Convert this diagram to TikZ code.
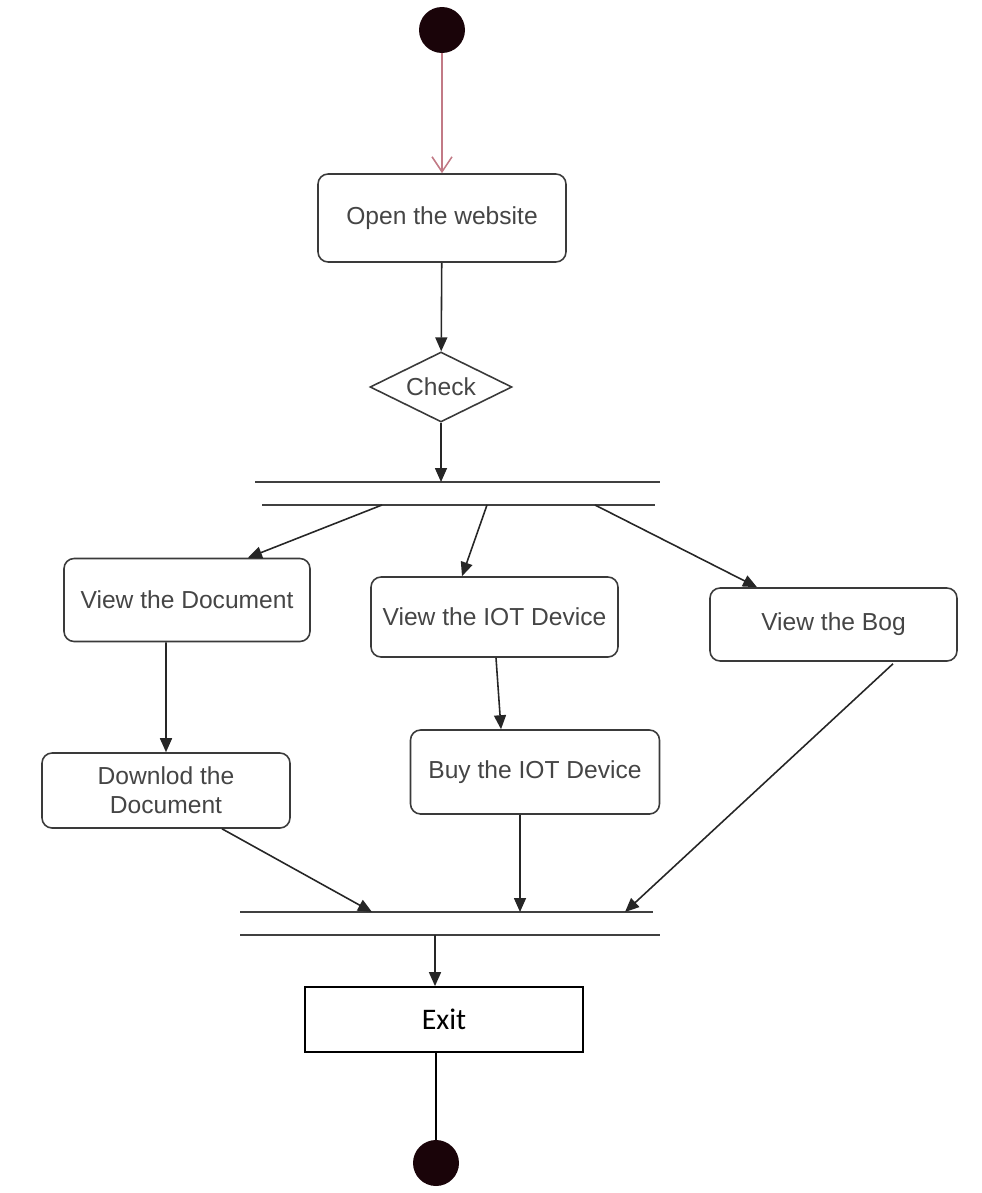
\documentclass[tikz,border=0pt]{standalone}
\usepackage{fontspec}
\setmainfont{Liberation Sans}
\newfontfamily\exitfont{Carlito}
\usetikzlibrary{shapes.geometric,arrows.meta}
\definecolor{boxline}{HTML}{3A3A3A}
\definecolor{boxtext}{HTML}{454545}
\definecolor{startred}{HTML}{C27A86}
\definecolor{blobfill}{HTML}{1A0409}

\begin{document}
\begin{tikzpicture}[x=0.02cm,y=-0.02cm,
    action/.style={draw=boxline, line width=0.9pt, rounded corners=0.2cm, fill=white,
      text=boxtext, font=\fontsize{14}{16.5}\selectfont, align=center, inner sep=0pt},
    blob/.style={circle, fill=blobfill, minimum size=0.92cm, inner sep=0pt},
    check/.style={diamond, aspect=2, draw=boxline, line width=0.9pt, text=boxtext,
      font=\fontsize{14}{16.5}\selectfont, minimum width=2.84cm, minimum height=1.4cm, inner sep=0pt},
    flow/.style={-{Triangle[length=0.28cm,width=0.24cm]}, line width=0.9pt, draw=black!85},
    forkbar/.style={line width=1pt, draw=black!75}]
  \useasboundingbox (0,0) rectangle (981,1193);

  % start and first action
  \node[blob] (start) at (442,30) {};
  \node[action, minimum width=4.96cm, minimum height=1.76cm] (open) at (442,218) {Open the website};
  \node[check] (check) at (441,387) {Check};

  % fork bar
  \draw[forkbar] (255,482) -- (660,482);
  \draw[forkbar] (262,505) -- (655,505);
  \coordinate (forktop) at (441,482);
  \coordinate (f1) at (382,505);
  \coordinate (f2) at (487,505);
  \coordinate (f3) at (595,505);

  % three branches
  \node[action, minimum width=4.92cm, minimum height=1.66cm] (viewdoc) at (187,600) {View the Document};
  \node[action, minimum width=4.94cm, minimum height=1.6cm] (viewiot) at (494.5,617) {View the IOT Device};
  \node[action, minimum width=4.94cm, minimum height=1.46cm] (viewbog) at (833.5,624.5) {View the Bog};
  \node[action, minimum width=4.96cm, minimum height=1.5cm] (download) at (166,790.5) {Downlod the\\Document};
  \node[action, minimum width=4.98cm, minimum height=1.68cm] (buy) at (535,772) {Buy the IOT Device};

  % join bar
  \draw[forkbar] (240,912) -- (653,912);
  \draw[forkbar] (240,935) -- (660,935);
  \coordinate (j1) at (372,912);
  \coordinate (j2) at (520,912);
  \coordinate (j3) at (625,912);
  \coordinate (jbot) at (435,935);

  % exit and end
  \node[draw=black, line width=1pt, fill=white, minimum width=5.56cm, minimum height=1.3cm,
    inner sep=0pt, font=\exitfont\fontsize{17}{20}\selectfont] (ex) at (444,1019.5) {Exit};
  \node[blob] (end) at (436,1163) {};

  % connectors
  \draw[-{Straight Barb[length=0.3cm,width=0.4cm]}, draw=startred, line width=0.9pt] (start) -- (open);
  \draw[flow] (open) -- (check);
  \draw[flow] (check) -- (forktop);
  \draw[flow] (f1) -- ([xshift=1.22cm]viewdoc.north);
  \draw[flow] (f2) -- ([xshift=-0.65cm]viewiot.north);
  \draw[flow] (f3) -- ([xshift=-1.53cm]viewbog.north);
  \draw[flow] ([xshift=-0.42cm]viewdoc.south) -- (download.north);
  \draw[flow] ([xshift=0.03cm]viewiot.south) -- ([xshift=-0.68cm]buy.north);
  \draw[flow] ([xshift=1.12cm]download.south) -- (j1);
  \draw[flow] ([xshift=-0.3cm]buy.south) -- (j2);
  \draw[flow] ([xshift=1.19cm,yshift=-0.04cm]viewbog.south) -- (j3);
  \draw[flow] (jbot) -- (jbot |- ex.north);
  \draw[line width=0.9pt] (ex.south -| end) -- (end);
\end{tikzpicture}
\end{document}
